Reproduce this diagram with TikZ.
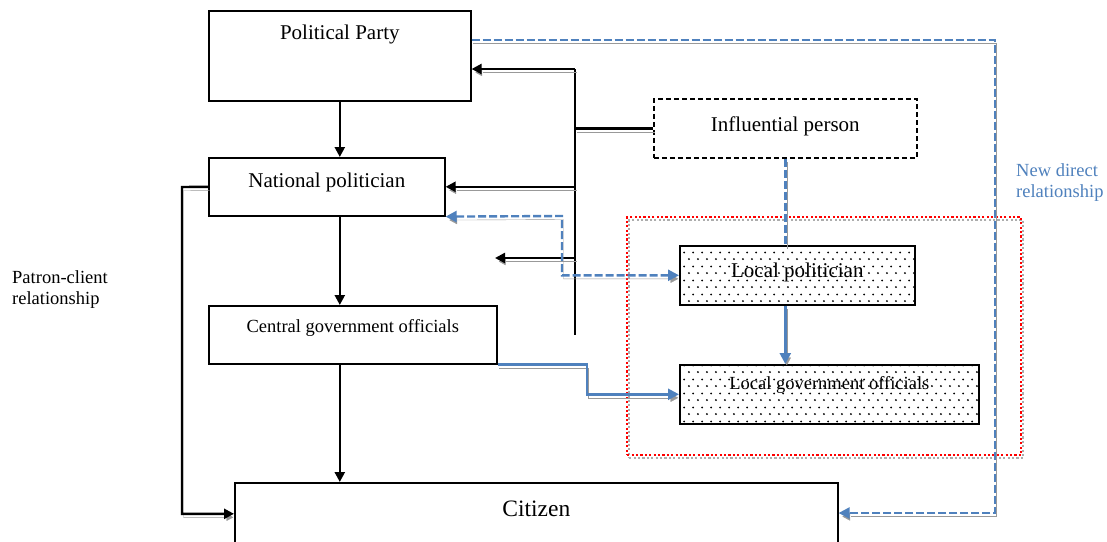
\documentclass[tikz,border=0pt]{standalone}
\usepackage{fontspec}
\setmainfont{Liberation Serif}
\usetikzlibrary{arrows.meta,patterns,calc}
\definecolor{obl}{RGB}{79,129,189}
\pgfdeclarepatternformonly{mydots}{\pgfpointorigin}{\pgfpoint{8.7pt}{14pt}}{\pgfpoint{8.7pt}{14pt}}{%
  \pgfpathcircle{\pgfpoint{2pt}{2pt}}{1.1pt}%
  \pgfpathcircle{\pgfpoint{6.35pt}{9pt}}{1.1pt}%
  \pgfusepath{fill}}
\begin{document}
\begin{tikzpicture}[x=1pt,y=-1pt,
  box/.style={draw, line width=1.6pt, inner sep=0pt, anchor=north west},
  fa/.style={font=\fontsize{21}{25}\selectfont},
  fb/.style={font=\fontsize{18.5}{21}\selectfont},
  fc/.style={font=\fontsize{23.5}{28}\selectfont},
  sh/.style={preaction={draw=gray!80, transform canvas={xshift=1.5pt,yshift=-3.5pt}}},
  blk/.style={line width=2.4pt, -{Triangle[length=10pt,width=10pt]}},
  tri/.style={-{Triangle[length=11pt,width=11pt]}},
  bd/.style={draw=obl, line width=2.4pt, dash pattern=on 8pt off 3pt},
  bs/.style={draw=obl, line width=2.4pt},
  dotbox/.style={box, pattern=mydots}
]
\useasboundingbox (0,0) rectangle (1107,541);
\fill[white] (0,0) rectangle (1107,541);

% group frame
\node[draw=red, line width=2.4pt, dash pattern=on 2.2pt off 2.2pt, anchor=north west, inner sep=0pt,
      minimum width=394pt, minimum height=238pt,
      preaction={draw=gray!65, transform canvas={xshift=2pt,yshift=-3pt}}] (grp) at (626,216) {};

% nodes
\node[box, minimum width=262pt, minimum height=90pt,
      label={[fa,anchor=center,yshift=-24pt]north:Political Party}] (pp) at (208,10) {};
\node[box, minimum width=236pt, minimum height=58pt,
      label={[fa,anchor=center,yshift=4pt]center:National politician}] (np) at (208,157) {};
\node[box, minimum width=288pt, minimum height=58pt,
      label={[fb,anchor=center,yshift=7pt]center:Central government officials}] (cg) at (208,305) {};
\node[box, minimum width=603pt, minimum height=62pt,
      label={[fc,anchor=center,yshift=5pt]center:Citizen}] (cz) at (234,482) {};
\node[box, dash pattern=on 5pt off 3pt, minimum width=263pt, minimum height=59pt,
      label={[fa,anchor=center,yshift=2pt]center:Influential person}] (ip) at (653,98) {};
\node[dotbox, minimum width=235pt, minimum height=59pt,
      label={[fa,anchor=center,yshift=3pt]center:Local politician}] (lp) at (679,245) {};
\node[dotbox, minimum width=299pt, minimum height=59pt,
      label={[fb,anchor=center,yshift=9pt]center:Local government officials}] (lg) at (679,364) {};

\node[fb, align=left, anchor=west, inner sep=0pt] (pcr) at (12,290) {Patron-client\\relationship};
\node[fb, align=left, anchor=west, inner sep=0pt, text=obl] (ndr) at (1016,183) {New direct\\relationship};

% coordinates
\coordinate (bt) at (575,69);
\coordinate (bb) at (575,335);
\coordinate (b3) at (575,258);
\coordinate (fe) at (495,258);
\coordinate (d1) at (562,216);
\coordinate (ppr) at ($(pp.north east)+(0,30)$);
\coordinate (c2a) at (995,40);
\coordinate (c2b) at (995,513);
\coordinate (k1) at (587,363);
\coordinate (l1) at (182,187);

% black bus and arrows
\draw[line width=2.4pt] (bt) -- (bb);
\draw[line width=2.4pt, sh] (ip.west) -- (ip.west -| bt);
\draw[blk, sh] (bt) -- (bt -| pp.east);
\draw[blk, sh] (np.east -| bt) -- (np.east);
\draw[blk, sh] (b3) -- (fe);

% vertical chain
\draw[blk] (pp.south) -- (pp.south |- np.north);
\draw[blk] (np.south -| pp.south) -- (pp.south |- cg.north);
\draw[blk] (cg.south -| pp.south) -- (pp.south |- cz.north);

% patron-client loop
\draw[blk, sh] (np.west) -- (l1) |- (cz.west);

% blue connectors
\draw[bd, sh, {Triangle[length=11pt,width=11pt]}-{Triangle[length=11pt,width=11pt]}] (np.south east) -- (d1) |- (lp.west);
\draw[bd, sh, tri] (ppr) -- (c2a) -- (c2b) -- (c2b -| cz.east);
\draw[bd, sh] (ip.south) -- (ip.south |- lp.north);
\draw[bs, sh, tri] (ip.south |- lp.south) -- (ip.south |- lg.north);
\draw[bs, sh, tri] (cg.south east) -- (cg.south east -| k1) |- (lg.west);
\end{tikzpicture}
\end{document}
